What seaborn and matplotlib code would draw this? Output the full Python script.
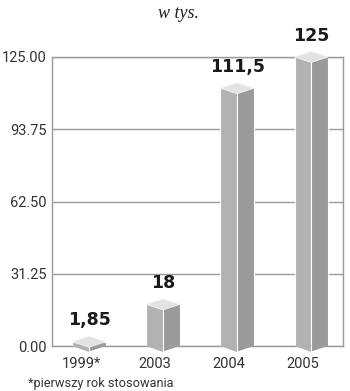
import matplotlib
matplotlib.use("Agg")
import matplotlib.pyplot as plt
import matplotlib.transforms as mtransforms
from matplotlib.patches import Polygon
import seaborn as sns
import pandas as pd

categories = ["1999*", "2003", "2004", "2005"]
values = [1.85, 18, 111.5, 125]
value_labels = ["1,85", "18", "111,5", "125"]
y_ticks = [0.00, 31.25, 62.50, 93.75, 125.00]
title = "w tys."
footnote = "*pierwszy rok stosowania"

sns.set_theme(style="white")
plt.rcParams["font.family"] = ["Roboto", "DejaVu Sans"]

faces = ["L", "R"]
df = pd.DataFrame(
    [{"year": c, "value": v, "face": f} for f in faces for c, v in zip(categories, values)]
)

fig = plt.figure(figsize=(3.5, 3.91), dpi=100)
ax = fig.add_axes([52 / 350, 1 - 346 / 391, (343 - 52) / 350, (346 - 57) / 391])

sns.barplot(
    data=df, x="year", y="value", hue="face", order=categories, hue_order=faces,
    palette={"L": "#b2b2b2", "R": "#9a9a9a"}, width=0.45, gap=0, dodge=True,
    saturation=1, legend=False, ax=ax, edgecolor="white", linewidth=0.8, errorbar=None,
)

ax.set_ylim(0, 125)
ax.set_xlim(-0.5, 3.43)

# 3D caps: depth of the top/bottom diamond in data units (about 5.5 px)
d = 5.5 * 125 / 289
left_bars = ax.containers[0].patches
right_bars = ax.containers[1].patches
for pl, pr, lab in zip(left_bars, right_bars, value_labels):
    xl = pl.get_x()
    xc = pl.get_x() + pl.get_width()
    xr = pr.get_x() + pr.get_width()
    v = pl.get_height()
    for p in (pl, pr):
        p.set_clip_on(False)
    # bottom V
    ax.add_patch(Polygon([(xl, 0), (xc, 0), (xc, -d)], closed=True, facecolor="#b2b2b2",
                         edgecolor="none", clip_on=False, zorder=3))
    ax.add_patch(Polygon([(xc, 0), (xr, 0), (xc, -d)], closed=True, facecolor="#9a9a9a",
                         edgecolor="none", clip_on=False, zorder=3))
    ax.plot([xc, xc], [-d, 0], color="white", lw=0.8, zorder=3.5, clip_on=False)
    # top diamond
    ax.add_patch(Polygon([(xl, v), (xc, v - d), (xr, v), (xc, v + d)], closed=True,
                         facecolor="#e3e3e3", edgecolor="#f4f4f4", linewidth=0.6,
                         clip_on=False, zorder=4))
    ax.annotate(lab, xy=(xc, v + d), xytext=(0, 5), textcoords="offset points",
                ha="center", va="bottom", fontsize=12.5, fontweight="bold",
                family=["DejaVu Sans"], color="#1a1a1a", annotation_clip=False)

ax.set_yticks(y_ticks)
ax.set_yticklabels([f"{t:.2f}" for t in y_ticks])
ax.set_xticks(range(len(categories)))
ax.set_xticklabels(categories)
ax.tick_params(axis="both", length=0, labelsize=10.5, labelcolor="#333333")
ax.tick_params(axis="y", pad=4)
ax.tick_params(axis="x", pad=8)
offset = mtransforms.ScaledTranslation(-8 / 100, 0, fig.dpi_scale_trans)
for lbl in ax.get_xticklabels():
    lbl.set_transform(lbl.get_transform() + offset)

ax.set_xlabel("")
ax.set_ylabel("")
ax.yaxis.grid(True, color="#9a9a9a", linewidth=1)
ax.set_axisbelow(True)
for s in ax.spines.values():
    s.set_color("#9a9a9a")
    s.set_linewidth(1)

fig.text(178 / 350, 1 - 13 / 391, title, ha="center", va="center", fontsize=13,
         style="italic", family=["Liberation Serif"], color="#222222")
fig.text(28 / 350, 1 - 383 / 391, footnote, ha="left", va="center", fontsize=9.2,
         color="#333333")

fig.savefig("out.png", dpi=100)
